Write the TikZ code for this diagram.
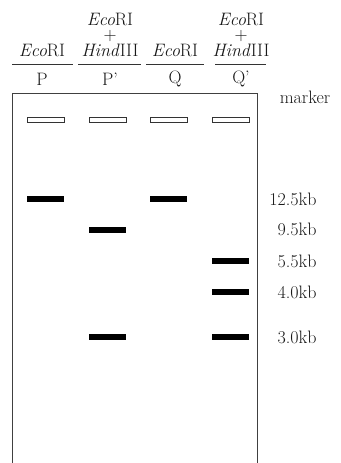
\documentclass[tikz,border=0pt]{standalone}
\begin{document}
\begin{tikzpicture}[x=1pt,y=-1pt,
  lbl/.style={inner sep=0pt,text=black!90,font=\fontsize{18}{21}\selectfont},
  stack/.style={inner sep=0pt,text=black!90,align=center,font=\fontsize{18}{15.5}\selectfont},
  well/.style={draw=black!80,line width=0.9pt,fill=white},
  band/.style={fill=black},
  hline/.style={draw=black!80,line width=0.9pt}]
\useasboundingbox (0,0) rectangle (340,463);
% header
\node[lbl] (e1) at (42,50) {\textit{Eco}RI};
\node[lbl] (p1) at (42,79) {P};
\node[stack,anchor=south] (s2) at (110,56.5) {\textit{Eco}RI\\+\\\textit{Hind}III};
\node[lbl] (p2) at (110,79) {P'};
\node[lbl] (e3) at (175,50) {\textit{Eco}RI};
\node[lbl] (q3) at (175,79) {Q};
\node[stack,anchor=south] (s4) at (241,56.5) {\textit{Eco}RI\\+\\\textit{Hind}III};
\node[lbl] (q4) at (241,79) {Q'};
\draw[hline] (12,64) -- (73,64);
\draw[hline] (78,64) -- (141,64);
\draw[hline] (146,64) -- (204,64);
\draw[hline] (215,64) -- (266,64);
% gel
\draw[draw=black!75,line width=0.9pt] (12,463) -- (12,93) -- (257,93) -- (257,463);
\foreach \x in {27,89,150,212}{\draw[well] (\x,117) rectangle ++(37,5);}
% bands
\fill[band] (27,196) rectangle ++(37,6);
\fill[band] (150,196) rectangle ++(37,6);
\fill[band] (89,227) rectangle ++(37,6);
\fill[band] (212,258) rectangle ++(37,6);
\fill[band] (212,289) rectangle ++(37,6);
\fill[band] (89,334) rectangle ++(37,6);
\fill[band] (212,334) rectangle ++(37,6);
% labels
\node[lbl] (mk) at (305,97) {marker};
\node[lbl] (k1) at (293,199) {12.5kb};
\node[lbl] (k2) at (297,229) {9.5kb};
\node[lbl] (k3) at (297,261) {5.5kb};
\node[lbl] (k4) at (297,292) {4.0kb};
\node[lbl] (k5) at (297,337) {3.0kb};
\end{tikzpicture}
\end{document}
